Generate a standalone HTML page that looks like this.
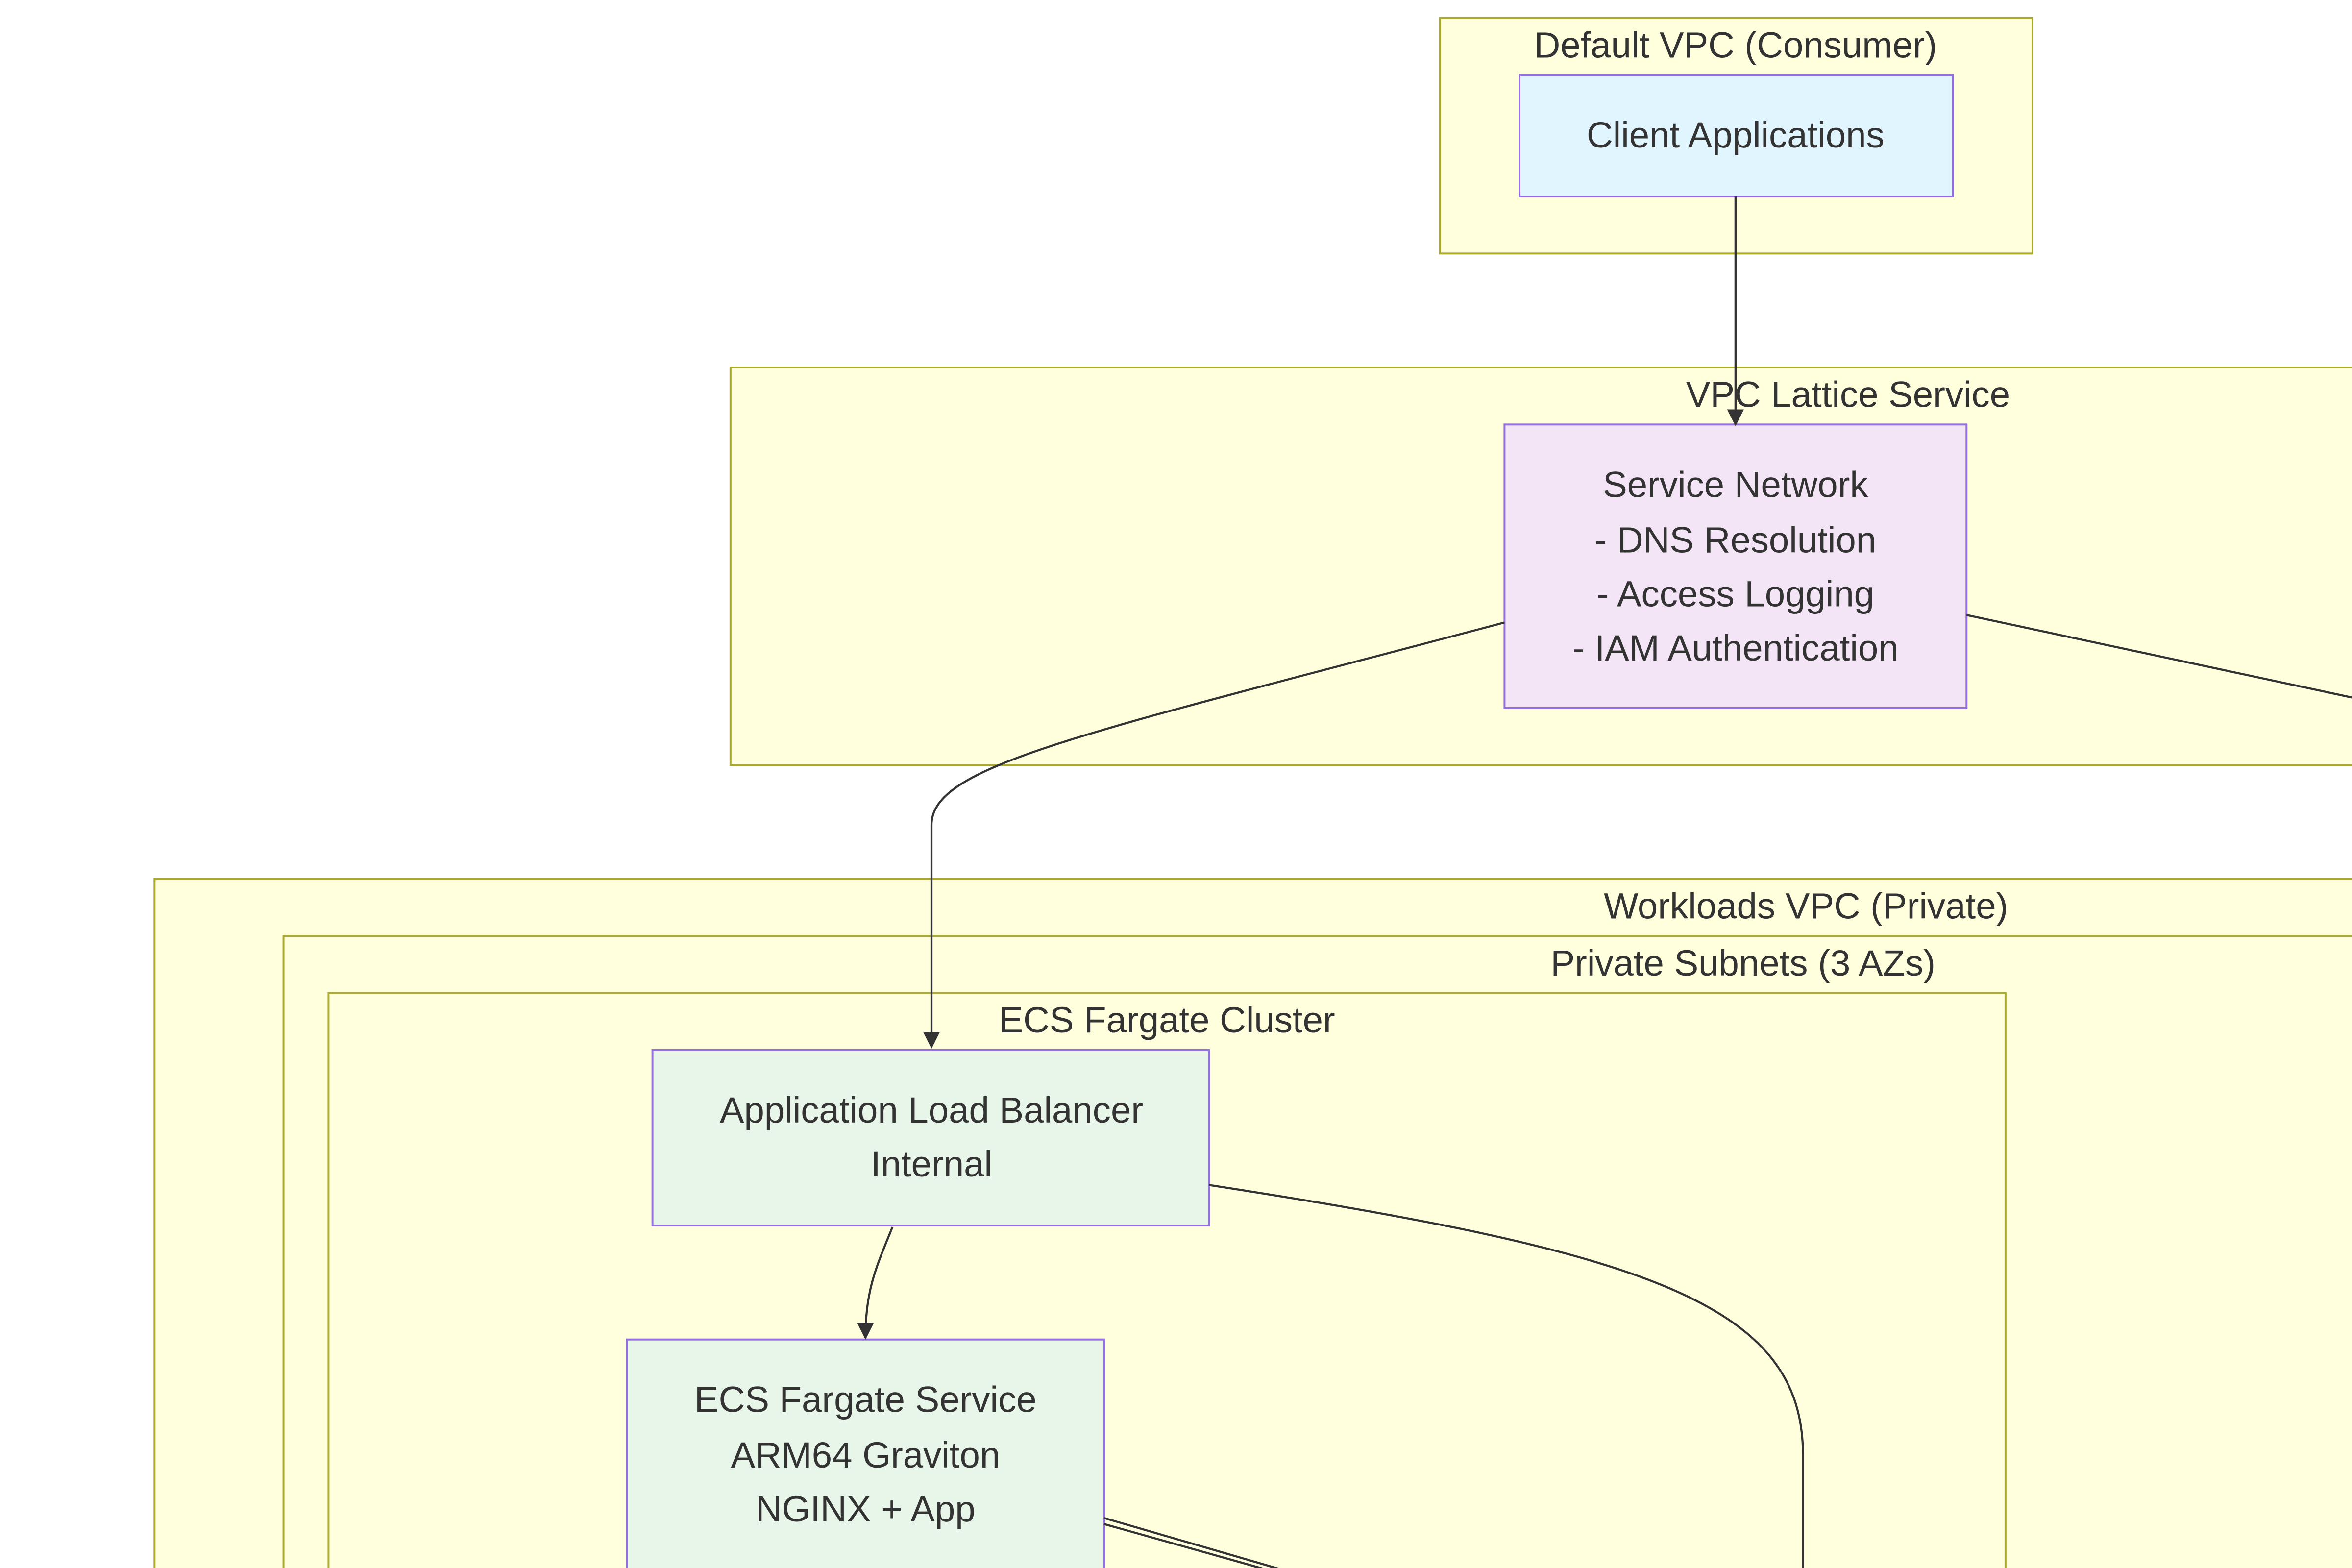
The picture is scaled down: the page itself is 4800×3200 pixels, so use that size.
<!DOCTYPE html>
<html><head><meta charset="utf-8"><style>
html,body{margin:0;padding:0;background:#fff;width:4800px;height:3200px;overflow:hidden}
svg{display:block}
text{font-family:"Liberation Sans",Arial,sans-serif;font-size:24.3px;fill:#333;text-anchor:middle;dominant-baseline:central}
.c{fill:#ffffde;stroke:#aaaa33;stroke-width:1.3}
.n{stroke:#9370db;stroke-width:1.3}
.e{fill:none;stroke:#333;stroke-width:1.4}
</style></head><body>
<svg width="4800" height="3200" viewBox="0 0 1568 1045.33" xmlns="http://www.w3.org/2000/svg">
<defs><marker id="a" viewBox="0 0 10 10" refX="9" refY="5" markerWidth="8" markerHeight="8" orient="auto"><path d="M0,0L10,5L0,10z" fill="#333"/></marker></defs>
<rect class="c" x="960" y="12" width="395" height="157"/>
<text x="1157" y="30">Default VPC (Consumer)</text>
<rect class="c" x="487" y="245" width="1100" height="265"/>
<rect class="c" x="103" y="586" width="1500" height="462"/>
<text x="1204" y="604">Workloads VPC (Private)</text>
<rect class="c" x="189" y="624" width="1400" height="424"/>
<text x="1162" y="642">Private Subnets (3 AZs)</text>
<rect class="c" x="219" y="662" width="1118" height="386"/>
<text x="778" y="680">ECS Fargate Cluster</text>

<rect class="n" x="1013" y="50" width="289" height="81" fill="#e1f5fe"/>
<text x="1157" y="90">Client Applications</text>
<rect class="n" x="1003" y="283" width="308" height="189" fill="#f3e5f5"/>
<text x="1157" y="323">Service Network</text>
<text x="1157" y="360">- DNS Resolution</text>
<text x="1157" y="396">- Access Logging</text>
<text x="1157" y="432">- IAM Authentication</text>
<rect class="n" x="435" y="700" width="371" height="117" fill="#e8f5e9"/>
<text x="621" y="740">Application Load Balancer</text>
<text x="621" y="776">Internal</text>
<rect class="n" x="418" y="893" width="318" height="155" fill="#e8f5e9"/>
<text x="577" y="933">ECS Fargate Service</text>
<text x="577" y="970">ARM64 Graviton</text>
<text x="577" y="1006">NGINX + App</text>

<path class="e" d="M1157,131L1157,283" marker-end="url(#a)"/>
<text x="1232" y="263">VPC Lattice Service</text>
<path class="e" d="M1003,415C720,490 621,510 621,550L621,698" marker-end="url(#a)"/>
<path class="e" d="M1311,410L1568,465"/>
<path class="e" d="M595,818C584,845 577,860 577,892" marker-end="url(#a)"/>
<path class="e" d="M806,790C1100,835 1202,870 1202,970L1202,1046"/>
<path class="e" d="M736,1012L860,1048"/>
<path class="e" d="M736,1016L850,1048"/>
</svg>
</body></html>
